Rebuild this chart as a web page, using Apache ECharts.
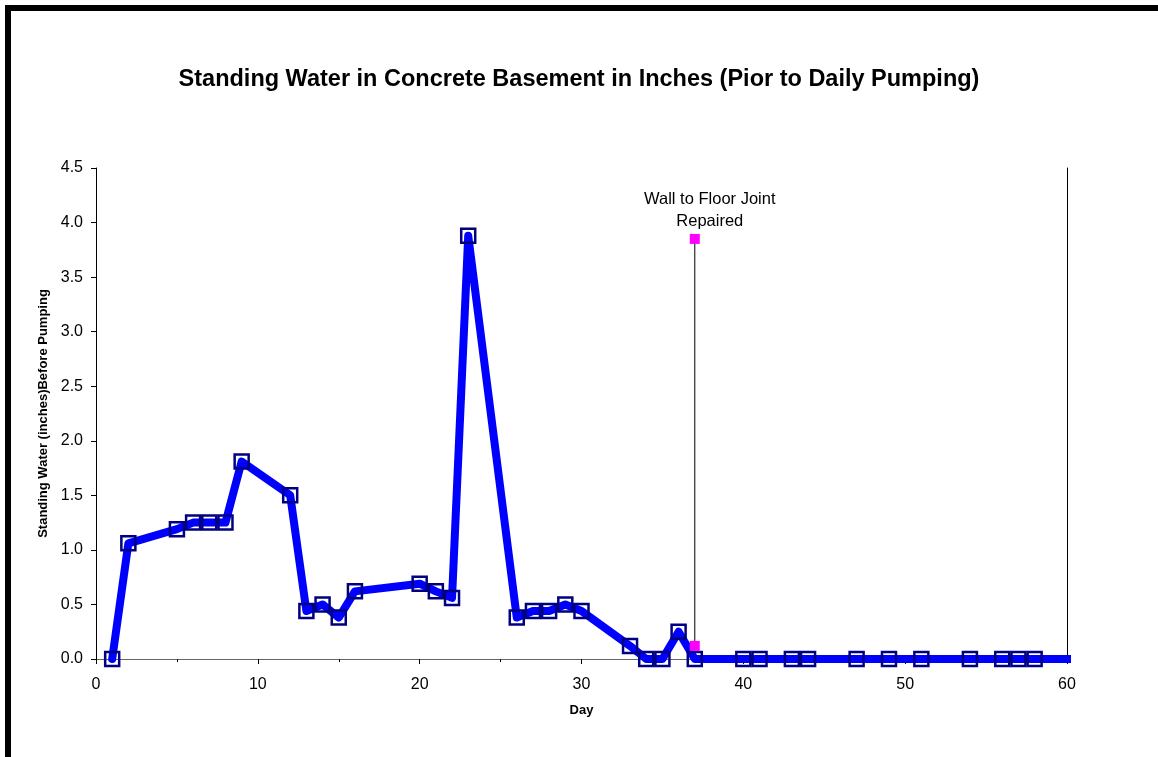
<!DOCTYPE html>
<html>
<head>
<meta charset="utf-8">
<script src="https://cdn.jsdelivr.net/npm/echarts@6/dist/echarts.min.js"></script>
<style>
  html, body { margin: 0; padding: 0; background: #fff; }
  #chart { width: 1158px; height: 757px; }
</style>
</head>
<body>
<div id="chart"></div>
<script>
// Daily readings: day number and standing water depth (inches) before pumping
const days = [1, 2, 5, 6, 7, 8, 9, 12, 13, 14, 15, 16, 20, 21, 22, 23, 26, 27, 28, 29, 30,
  33, 34, 35, 36, 37, 40, 41, 43, 44, 47, 49, 51, 54, 56, 57, 58, 60.5];
const water = [0, 1.06, 1.19, 1.25, 1.25, 1.25, 1.81, 1.5, 0.44, 0.5, 0.38, 0.62, 0.69, 0.62, 0.56, 3.88, 0.38, 0.44, 0.44, 0.5, 0.44,
  0.12, 0, 0, 0.25, 0, 0, 0, 0, 0, 0, 0, 0, 0, 0, 0, 0, 0];
// Last reading carries the line to the edge without a marker
const unmarkedDays = [60.5];

// Repair event marker: vertical line at day 37
const repairDays = [37, 37];
const repairLevels = [3.85, 0.12];
const repairLabel = 'Wall to Floor Joint\nRepaired';

const xTicks = [0, 10, 20, 30, 40, 50, 60];
const yTicks = [0, 0.5, 1.0, 1.5, 2.0, 2.5, 3.0, 3.5, 4.0, 4.5];

const waterData = days.map((d, i) => {
  const item = { value: [d, water[i]] };
  if (unmarkedDays.includes(d)) item.symbol = 'none';
  return item;
});
const repairData = repairDays.map((d, i) => [d, repairLevels[i]]);

const chart = echarts.init(document.getElementById('chart'));
const font = "Arial, 'Liberation Sans', sans-serif";

chart.setOption({
  animation: false,
  backgroundColor: '#fff',
  textStyle: { fontFamily: font },
  graphic: [{
    type: 'rect',
    shape: { x: 8, y: 8, width: 1300, height: 900 },
    style: { fill: 'none', stroke: '#000', lineWidth: 6 },
    silent: true,
    z: 100
  }],
  title: {
    text: 'Standing Water in Concrete Basement in Inches (Pior to Daily Pumping)',
    left: 'center',
    top: 63,
    textStyle: { fontFamily: font, fontSize: 23.5, fontWeight: 'bold', color: '#000' }
  },
  grid: { left: 96, right: 91, top: 168, bottom: 98 },
  xAxis: {
    type: 'value',
    min: xTicks[0],
    max: xTicks[xTicks.length - 1],
    interval: 10,
    name: 'Day',
    nameLocation: 'middle',
    nameGap: 45,
    nameTextStyle: { fontFamily: font, fontSize: 13, fontWeight: 'bold', color: '#000' },
    axisLine: { onZero: false, lineStyle: { color: '#666', width: 1 } },
    axisTick: { show: true, length: 5, lineStyle: { color: '#000' } },
    minorTick: { show: true, splitNumber: 2, length: 3, lineStyle: { color: '#000' } },
    axisLabel: { fontFamily: font, fontSize: 16, color: '#000', margin: 18 },
    splitLine: { show: false }
  },
  yAxis: [{
    type: 'value',
    min: yTicks[0],
    max: yTicks[yTicks.length - 1],
    interval: 0.5,
    name: 'Standing Water (inches)Before Pumping',
    nameLocation: 'middle',
    nameGap: 44,
    nameTextStyle: { fontFamily: font, fontSize: 13, fontWeight: 'bold', color: '#000' },
    axisLine: { show: true, lineStyle: { color: '#000', width: 1 } },
    axisTick: { show: true, length: 5, lineStyle: { color: '#000' } },
    axisLabel: {
      fontFamily: font, fontSize: 16, color: '#000', margin: 13,
      formatter: v => v.toFixed(1)
    },
    splitLine: { show: false }
  }, {
    type: 'value',
    position: 'right',
    min: yTicks[0],
    max: yTicks[yTicks.length - 1],
    interval: 0.5,
    axisLine: { show: true, lineStyle: { color: '#000', width: 1 } },
    axisTick: { show: false },
    axisLabel: { show: false },
    splitLine: { show: false }
  }],
  series: [{
    name: 'Standing Water',
    type: 'line',
    data: waterData,
    yAxisIndex: 0,
    symbol: 'rect',
    symbolSize: 14,
    showAllSymbol: true,
    lineStyle: { color: '#0000ff', width: 8, cap: 'round', join: 'round' },
    itemStyle: { color: 'rgba(0,0,0,0)', borderColor: '#000080', borderWidth: 2.5 },
    z: 3
  }, {
    name: 'Repair',
    type: 'line',
    data: repairData,
    yAxisIndex: 0,
    symbol: 'rect',
    symbolSize: 10,
    lineStyle: { color: '#000', width: 1 },
    itemStyle: { color: '#ff00ff', borderWidth: 0 },
    label: {
      show: true,
      formatter: p => (p.dataIndex === 0 ? repairLabel : ''),
      position: 'top',
      offset: [15, 4],
      fontFamily: font,
      fontSize: 16.5,
      lineHeight: 22,
      color: '#000',
      align: 'center'
    },
    z: 4
  }]
});
</script>
</body>
</html>
